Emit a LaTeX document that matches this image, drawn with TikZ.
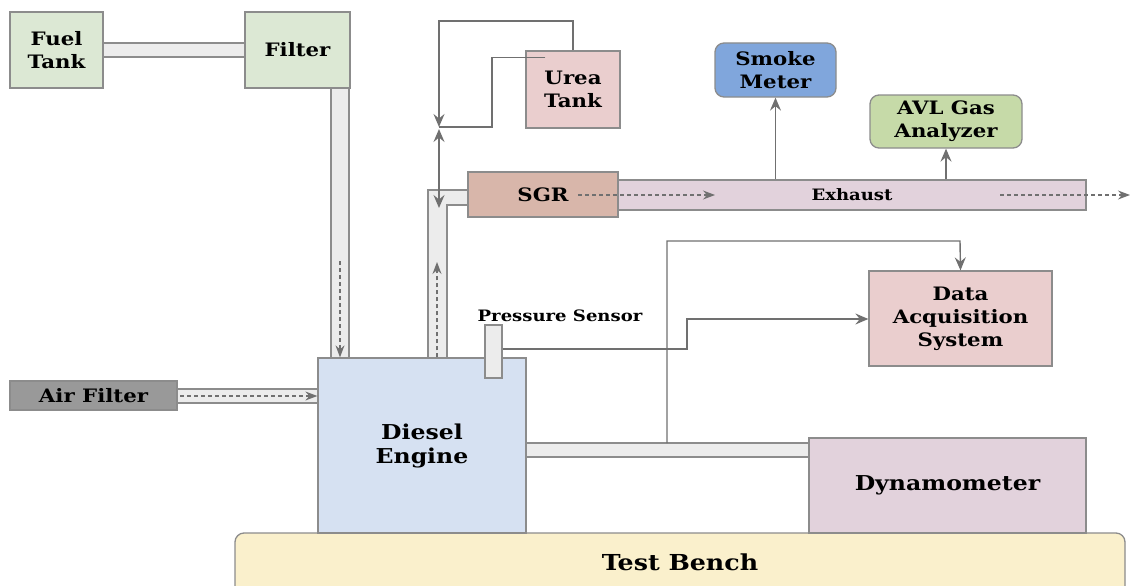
\documentclass[tikz,border=0pt]{standalone}
\usepackage{fontspec}
\setmainfont{DejaVu Serif}[FakeStretch=1.15]
\usetikzlibrary{arrows.meta,calc}

\definecolor{bordergray}{RGB}{140,140,140}
\definecolor{linegray}{RGB}{112,112,112}
\definecolor{pipefill}{RGB}{236,236,236}
\definecolor{fuelgreen}{RGB}{220,232,212}
\definecolor{engineblue}{RGB}{214,225,242}
\definecolor{airgray}{RGB}{153,153,153}
\definecolor{rosefill}{RGB}{234,206,206}
\definecolor{mauvefill}{RGB}{226,210,220}
\definecolor{sgrfill}{RGB}{216,182,170}
\definecolor{smokeblue}{RGB}{128,166,220}
\definecolor{avlgreen}{RGB}{198,218,168}
\definecolor{benchfill}{RGB}{250,240,204}

\tikzset{
  box/.style={draw=bordergray, line width=1.3pt, inner sep=0pt, align=center,
    font=\fontsize{18.5}{23}\selectfont\bfseries},
  bigtext/.style={font=\fontsize{20.5}{24}\selectfont\bfseries},
  smalltext/.style={font=\fontsize{15.7}{18}\selectfont\bfseries},
  roundbox/.style={box, rounded corners=9pt},
  pipe/.style={draw=bordergray, line width=1.2pt, fill=pipefill},
  sig/.style={draw=linegray, line width=1.4pt},
  head/.tip={Stealth[length=13pt,width=11pt,inset=4.5pt]},
  tip/.style={-head},
  flow/.style={draw=linegray, line width=1.3pt, dash pattern=on 4pt off 3pt,
    -{Stealth[length=12pt,width=9pt,inset=4pt]}},
}

\begin{document}
\begin{tikzpicture}[x=1pt,y=-1pt]
\useasboundingbox (0,0) rectangle (1130,586);
\clip (0,0) rectangle (1130,586);

% test bench (bottom edge runs off the page)
\draw[draw=bordergray, line width=1.3pt, fill=benchfill, rounded corners=9pt]
  (235,620) -- (235,533) -- (1125,533) -- (1125,620);
\node[font=\fontsize{22}{24}\selectfont\bfseries] (bench) at (680,562) {Test Bench};

% pipes
\draw[pipe] (103,43) rectangle (245,57);
\draw[pipe] (331,88) rectangle (349,358);
\draw[pipe] (177,389) rectangle (318,403);
\draw[pipe] (526,443) rectangle (809,457);
\draw[pipe] (447,358) -- (428,358) -- (428,190) -- (468,190) -- (468,205) -- (447,205) -- cycle;

% components
\node[box, fill=fuelgreen, minimum width=93pt, minimum height=76pt] (fuel) at (56.5,50) {Fuel\\Tank};
\node[box, fill=fuelgreen, minimum width=105pt, minimum height=76pt] (filter) at (297.5,50) {Filter};
\node[box, bigtext, fill=engineblue, minimum width=208pt, minimum height=175pt] (engine) at (422,445.5) {Diesel\\Engine};
\node[box, fill=airgray, minimum width=167pt, minimum height=29pt] (airf) at (93.5,395.5) {Air Filter};
\node[box, fill=pipefill, minimum width=17pt, minimum height=53pt] (sensor) at (493.5,351.5) {};
\node[smalltext] (sensorlbl) at (560,316) {Pressure Sensor};
\node[box, fill=rosefill, minimum width=183pt, minimum height=95pt] (daq) at (960.5,318.5) {Data\\Acquisition\\System};
\node[box, bigtext, fill=mauvefill, minimum width=277pt, minimum height=95pt] (dyno) at (947.5,485.5) {Dynamometer};
\node[box, smalltext, fill=mauvefill, minimum width=468pt, minimum height=30pt] (exhaust) at (852,195) {Exhaust};
\node[box, fill=sgrfill, minimum width=150pt, minimum height=45pt] (sgr) at (543,194.5) {SGR};
\node[roundbox, fill=smokeblue, minimum width=121pt, minimum height=54pt] (smoke) at (775.5,70) {Smoke\\Meter};
\node[roundbox, fill=avlgreen, minimum width=152pt, minimum height=53pt] (avl) at (946,121.5) {AVL Gas\\Analyzer};
\node[box, fill=rosefill, minimum width=94pt, minimum height=77pt] (urea) at (573,89.5) {Urea\\Tank};

% flow arrows inside the pipes
\draw[flow] (340,261) -- (engine.north -| 340,0);
\draw[flow] (engine.north -| 437,0) -- (437,262);
\draw[flow] (180,396) -- (engine.west |- 0,396);
\draw[flow] (578,195) -- (715,195);
\draw[flow] (1000,195) -- (1130,195);

% measurement lines
\draw[sig, tip] (exhaust.north -| smoke.south) -- (smoke.south);
\draw[sig, tip] (exhaust.north -| avl.south) -- (avl.south);
\coordinate (shaftup) at (667,443);
\draw[sig, tip] (shaftup) |- (960,241) -- (daq.north);
\draw[sig, tip] (sensor.east |- 0,349) -| (687,319) -- (daq.west |- 0,319);

% urea dosing lines
\coordinate (dose) at (439,127);
\draw[sig, tip] (urea.north) |- (439,21) -- (dose);
\draw[sig] ($(urea.north west)+(20,7)$) -| (492,127) -- (dose);
\draw[sig, head-head] (439,129) -- (439,208);
\end{tikzpicture}
\end{document}
